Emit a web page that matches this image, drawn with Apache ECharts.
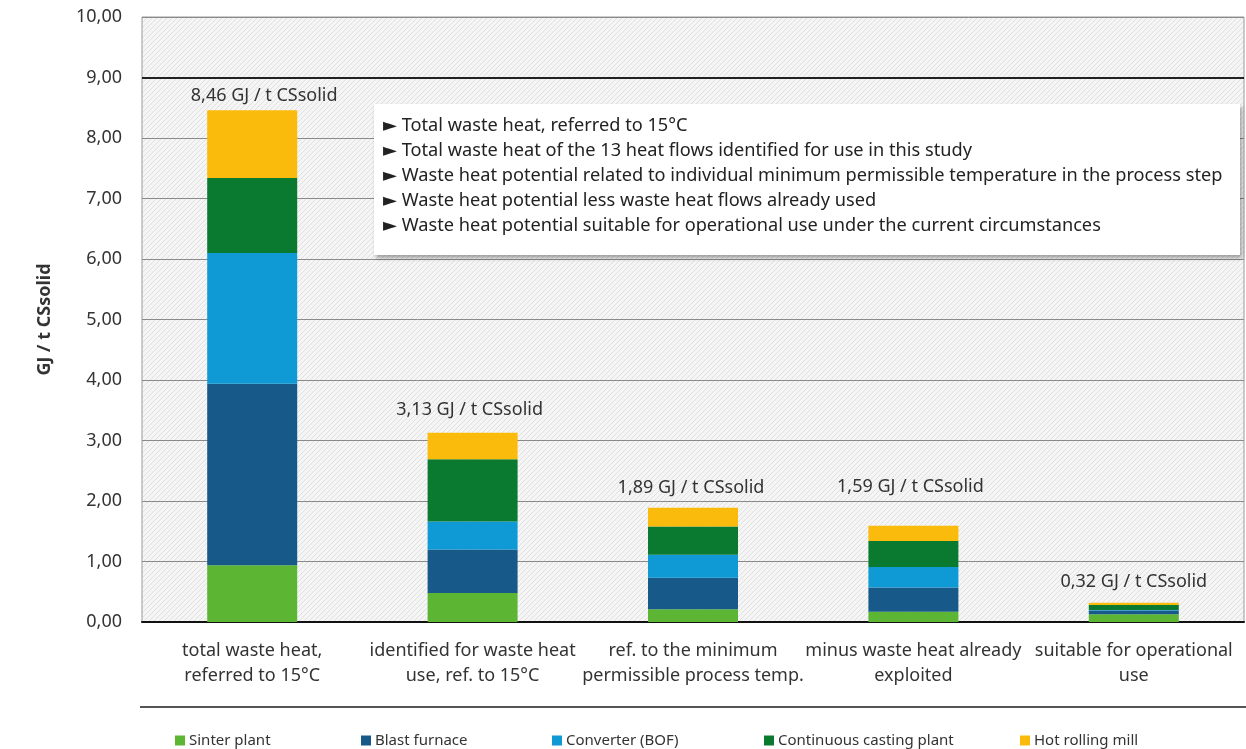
<!DOCTYPE html>
<html>
<head>
<meta charset="utf-8">
<script src="https://cdn.jsdelivr.net/npm/echarts@6/dist/echarts.min.js"></script>
<style>
  html, body { margin: 0; padding: 0; background: #ffffff; }
  #chart { width: 1246px; height: 749px; }
</style>
</head>
<body>
<div id="chart"></div>
<script>
// Process stages (x axis)
const categories = [
  'total waste heat,\nreferred to 15°C',
  'identified for waste heat\nuse, ref. to 15°C',
  'ref. to the minimum\npermissible process temp.',
  'minus waste heat already\nexploited',
  'suitable for operational\nuse'
];

// Waste heat per plant section, GJ / t CSsolid
const sinterPlant       = [0.94, 0.48, 0.21, 0.17, 0.13];
const blastFurnace      = [3.00, 0.72, 0.52, 0.40, 0.06];
const converterBOF      = [2.16, 0.46, 0.38, 0.34, 0.01];
const continuousCasting = [1.24, 1.03, 0.47, 0.43, 0.08];
const hotRollingMill    = [1.12, 0.44, 0.31, 0.25, 0.04];

const seriesNames = ['Sinter plant', 'Blast furnace', 'Converter (BOF)', 'Continuous casting plant', 'Hot rolling mill'];

// y axis range
const yMin = 0;
const yMax = 10;
const yStep = 1;
const highlightLevel = 9;

// Notes listed in the box
const noteLines = [
  'Total waste heat, referred to 15°C',
  'Total waste heat of the 13 heat flows identified for use in this study',
  'Waste heat potential related to individual minimum permissible temperature in the process step',
  'Waste heat potential less waste heat flows already used',
  'Waste heat potential suitable for operational use under the current circumstances'
];

const FONT = '"Noto Sans", "DejaVu Sans", sans-serif';
const TXT = '#333333';
const colors = ['#5db633', '#175a8a', '#0f9ad6', '#0a7a30', '#fbbb0c'];

const stacks = [sinterPlant, blastFurnace, converterBOF, continuousCasting, hotRollingMill];
const totals = categories.map((_, i) => stacks.reduce((s, arr) => s + arr[i], 0));
const fmt = v => v.toFixed(2).replace('.', ',');

// diagonal hatch for the plot background
const hatch = document.createElement('canvas');
hatch.width = 5; hatch.height = 5;
const hc = hatch.getContext('2d');
hc.fillStyle = '#f5f5f5';
hc.fillRect(0, 0, 5, 5);
hc.strokeStyle = '#e0e0e0';
hc.lineWidth = 1;
hc.beginPath();
hc.moveTo(0, 5); hc.lineTo(5, 0);
hc.moveTo(-1, 1); hc.lineTo(1, -1);
hc.moveTo(4, 6); hc.lineTo(6, 4);
hc.stroke();

// placement of each total label above its bar
const totalLabelGap = [5, 14, 11, 30, 12];
const totalLabelShift = [12, -3, -2, -3, 0];

const series = stacks.map((arr, k) => {
  const s = {
    name: seriesNames[k],
    type: 'bar',
    stack: 'total',
    barWidth: 90,
    itemStyle: { color: colors[k] },
    data: arr.slice()
  };
  if (k === stacks.length - 1) {
    s.data = arr.map((v, i) => ({
      value: v,
      label: { distance: totalLabelGap[i], offset: [totalLabelShift[i], 0] }
    }));
    s.label = {
      show: true,
      position: 'top',
      fontFamily: FONT,
      fontSize: 18,
      color: TXT,
      formatter: p => fmt(totals[p.dataIndex]) + ' GJ / t CSsolid'
    };
  }
  if (k === 0) {
    s.markLine = {
      silent: true,
      symbol: 'none',
      label: { show: false },
      lineStyle: { color: '#222222', width: 2, type: 'solid' },
      data: [{ yAxis: highlightLevel }]
    };
  }
  return s;
});

// legend entries placed individually along the bottom
const legendLeft = [170, 356, 547, 759, 1015];
const legends = seriesNames.map((n, k) => ({
  data: [n],
  left: legendLeft[k],
  top: 728,
  icon: 'rect',
  itemWidth: 10,
  itemHeight: 10,
  itemGap: 0,
  selectedMode: false,
  textStyle: { fontFamily: FONT, fontSize: 15, color: TXT, padding: [0, 0, 0, -1] }
}));

const chart = echarts.init(document.getElementById('chart'), null, { renderer: 'canvas' });

chart.setOption({
  animation: false,
  textStyle: { fontFamily: FONT },
  grid: {
    left: 142, right: 2, top: 17, bottom: 127,
    show: true,
    backgroundColor: { image: hatch, repeat: 'repeat' },
    borderColor: '#9a9a9a',
    borderWidth: 1
  },
  legend: legends,
  xAxis: {
    type: 'category',
    data: categories,
    axisLine: { lineStyle: { color: '#111111', width: 2 } },
    axisTick: { show: false },
    axisLabel: {
      interval: 0,
      margin: 16,
      fontFamily: FONT,
      fontSize: 18,
      lineHeight: 25,
      color: TXT
    }
  },
  yAxis: {
    type: 'value',
    min: yMin,
    max: yMax,
    interval: yStep,
    name: 'GJ / t CSsolid',
    nameLocation: 'middle',
    nameGap: 88,
    nameTextStyle: { fontFamily: FONT, fontSize: 18, fontWeight: 'bold', color: TXT },
    axisLine: { show: false },
    axisTick: { show: false },
    axisLabel: {
      margin: 20,
      fontFamily: FONT,
      fontSize: 18,
      color: TXT,
      formatter: v => fmt(v)
    },
    splitLine: { lineStyle: { color: '#8a8a8a', width: 1 } }
  },
  graphic: [
    {
      type: 'line',
      z: 50,
      shape: { x1: 140, y1: 707, x2: 1246, y2: 707 },
      style: { stroke: '#555555', lineWidth: 2 }
    },
    {
      type: 'rect',
      z: 100,
      shape: { x: 374, y: 104, width: 866, height: 151 },
      style: {
        fill: '#ffffff',
        shadowBlur: 4,
        shadowColor: 'rgba(0,0,0,0.35)',
        shadowOffsetX: 2,
        shadowOffsetY: 3
      }
    },
    {
      type: 'text',
      z: 101,
      x: 383,
      y: 113,
      style: {
        text: noteLines.map(t => '► ' + t).join('\n'),
        fontFamily: FONT,
        fontSize: 18.2,
        lineHeight: 25,
        fill: '#222222'
      }
    }
  ],
  series: series
});
</script>
</body>
</html>
